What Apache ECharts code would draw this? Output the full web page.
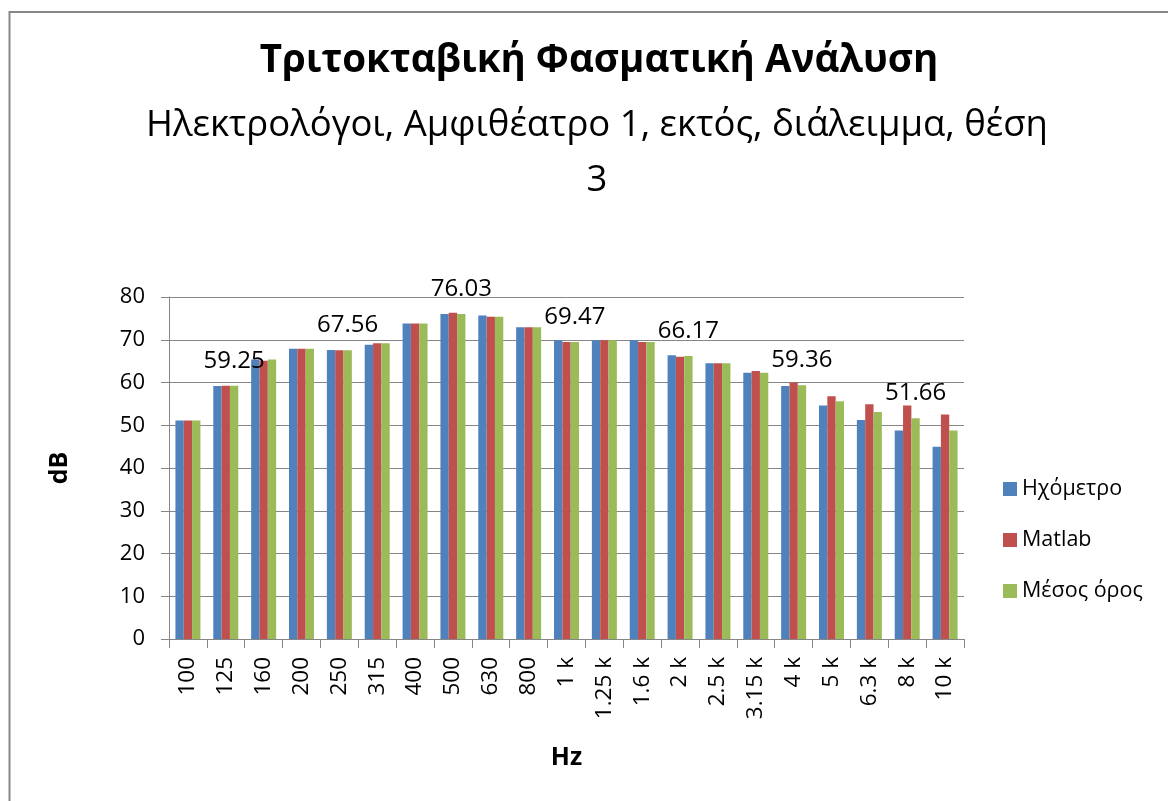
<!DOCTYPE html>
<html>
<head>
<meta charset="utf-8">
<script src="https://cdn.jsdelivr.net/npm/echarts@6/dist/echarts.min.js"></script>
<style>
html,body{margin:0;padding:0;background:#fff;}
#chart{width:1168px;height:801px;}
</style>
</head>
<body>
<div id="chart"></div>
<script>
var categories = ['100','125','160','200','250','315','400','500','630','800','1 k','1.25 k','1.6 k','2 k','2.5 k','3.15 k','4 k','5 k','6.3 k','8 k','10 k'];
var soundMeter = [51.1, 59.2, 65.4, 67.9, 67.6, 68.85, 73.8, 76.0, 75.7, 72.9, 69.9, 69.9, 69.9, 66.4, 64.5, 62.3, 59.2, 54.6, 51.2, 48.8, 45.0];
var matlab = [51.1, 59.25, 65.1, 67.9, 67.56, 69.16, 73.8, 76.3, 75.4, 72.9, 69.47, 69.9, 69.47, 66.05, 64.5, 62.7, 60.0, 56.8, 54.9, 54.6, 52.5];
var average = [51.1, 59.25, 65.4, 67.9, 67.56, 69.16, 73.8, 76.03, 75.4, 72.9, 69.47, 69.9, 69.47, 66.17, 64.5, 62.3, 59.36, 55.6, 53.1, 51.66, 48.8];
var labelledIndices = [1, 4, 7, 10, 13, 16, 19];
var yTicks = [0, 10, 20, 30, 40, 50, 60, 70, 80];

var FONT = 'Open Sans';
var chart = echarts.init(document.getElementById('chart'));
var avgData = average.map(function (v, i) {
  return {
    value: v,
    label: { show: labelledIndices.indexOf(i) >= 0 }
  };
});
var option = {
  animation: false,
  color: ['#4F81BD', '#C0504D', '#9BBB59'],
  textStyle: { fontFamily: FONT },
  graphic: [{
    type: 'rect',
    shape: { x: 9.5, y: 12, width: 1200, height: 830 },
    style: { fill: 'none', stroke: '#878787', lineWidth: 2 },
    silent: true, z: -1
  }],
  title: [{
    text: 'Τριτοκταβική Φασματική Ανάλυση',
    left: 594, top: 37, textAlign: 'center',
    textStyle: { fontFamily: FONT, fontWeight: 'bold', fontSize: 38.5, color: '#000' }
  }, {
    text: 'Ηλεκτρολόγοι, Αμφιθέατρο 1, εκτός, διάλειμμα, θέση\n3',
    left: 592, top: 93, textAlign: 'center',
    textStyle: { fontFamily: FONT, fontWeight: 'normal', fontSize: 36.5, lineHeight: 55, color: '#000' }
  }],
  legend: {
    orient: 'vertical',
    left: 998, top: 473,
    itemWidth: 14, itemHeight: 14, itemGap: 29,
    icon: 'rect',
    textStyle: { fontFamily: FONT, fontSize: 21.5, color: '#000', padding: [0, 0, 0, 0] },
    data: ['Ηχόμετρο', 'Matlab', 'Μέσος όρος']
  },
  grid: { left: 169, top: 297, width: 795, height: 342 },
  xAxis: {
    type: 'category',
    data: categories,
    name: 'Hz',
    nameLocation: 'middle',
    nameGap: 106,
    nameTextStyle: { fontFamily: FONT, fontWeight: 'bold', fontSize: 25, color: '#000' },
    axisLine: { lineStyle: { color: '#868686', width: 1 } },
    axisTick: { show: true, length: 9, lineStyle: { color: '#868686' } },
    axisLabel: { rotate: 90, align: 'right', verticalAlign: 'middle', margin: 18, fontFamily: FONT, fontSize: 22.5, color: '#000', interval: 0 }
  },
  yAxis: {
    type: 'value',
    min: yTicks[0], max: yTicks[yTicks.length - 1], interval: 10,
    name: 'dB',
    nameLocation: 'middle',
    nameGap: 97,
    nameRotate: 90,
    nameTextStyle: { fontFamily: FONT, fontWeight: 'bold', fontSize: 25, color: '#000' },
    axisLine: { show: true, lineStyle: { color: '#868686', width: 1 } },
    axisTick: { show: true, length: 8, lineStyle: { color: '#868686' } },
    splitLine: { lineStyle: { color: '#868686', width: 1 } },
    axisLabel: { margin: 24, fontFamily: FONT, fontSize: 22, color: '#000' }
  },
  series: [{
    name: 'Ηχόμετρο', type: 'bar', data: soundMeter,
    barGap: '0%', barCategoryGap: '34%'
  }, {
    name: 'Matlab', type: 'bar', data: matlab,
    barGap: '0%', barCategoryGap: '34%'
  }, {
    name: 'Μέσος όρος', type: 'bar', data: avgData,
    barGap: '0%', barCategoryGap: '34%',
    label: {
      position: 'top', distance: 12,
      fontFamily: FONT, fontSize: 24, lineHeight: 26, color: '#000',
      formatter: function (p) { return p.value.toFixed(2); }
    }
  }]
};
chart.setOption(option);
</script>
</body>
</html>
